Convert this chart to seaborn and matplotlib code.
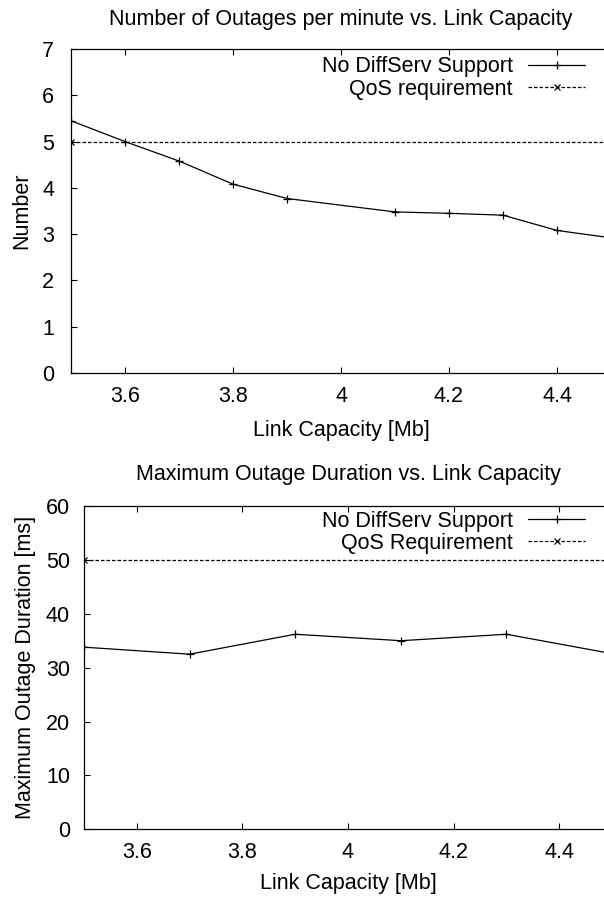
import pandas as pd
import seaborn as sns
import matplotlib.pyplot as plt

# --- data ---
capacity_top = [3.5, 3.6, 3.7, 3.8, 3.9, 4.1, 4.2, 4.3, 4.4, 4.5]
outages = [5.45, 5.0, 4.58, 4.08, 3.77, 3.48, 3.45, 3.41, 3.08, 2.92]
capacity_bottom = [3.5, 3.7, 3.9, 4.1, 4.3, 4.5]
max_duration = [33.8, 32.5, 36.2, 35.0, 36.2, 32.6]
qos_x = [3.5, 4.5]
qos_outages = [5, 5]
qos_duration = [50, 50]
x_ticks = [3.6, 3.8, 4.0, 4.2, 4.4]
x_tick_labels = ["3.6", "3.8", "4", "4.2", "4.4"]

sns.set_style("ticks")
plt.rcParams["font.family"] = ["Liberation Sans", "DejaVu Sans"]
plt.rcParams["text.color"] = "black"
plt.rcParams["axes.labelcolor"] = "black"

FS = 15.5

fig = plt.figure(figsize=(6.04, 9.0), dpi=100)
# axes reach past the right edge of the canvas, as in the reference
ax1 = fig.add_axes([71 / 604, 1 - 373 / 900, 540 / 604, 324 / 900])
ax2 = fig.add_axes([84 / 604, 1 - 829.3 / 900, 528 / 604, 323.3 / 900])


def draw_panel(ax, x, y, qos_y, qos_label, title, ylabel, ylim, yticks,
               leg_anchor, title_pad, ylabel_pad, ytick_pad, xlabel_pad):
    sns.lineplot(x=x, y=y, ax=ax, color="black", lw=0.9, marker="+",
                 markersize=5.5, markeredgewidth=0.9, markeredgecolor="black",
                 label="No DiffServ Support")
    sns.lineplot(x=qos_x, y=qos_y, ax=ax, color="black", lw=0.9, marker="x",
                 markersize=4, markeredgewidth=0.9, markeredgecolor="black",
                 label=qos_label, linestyle=(0, (2.8, 1.6)))
    ax.set_xlim(3.5, 4.5)
    ax.set_ylim(*ylim)
    ax.set_xticks(x_ticks)
    ax.set_xticklabels(x_tick_labels)
    ax.set_yticks(yticks)
    ax.tick_params(direction="in", length=4.5, width=0.8, labelsize=FS,
                   top=True, right=True, colors="black")
    ax.tick_params(axis="x", pad=9)
    ax.tick_params(axis="y", pad=ytick_pad)
    for sp in ax.spines.values():
        sp.set_visible(True)
        sp.set_linewidth(0.9)
        sp.set_color("black")
    ax.set_title(title, fontsize=FS, pad=title_pad)
    ax.set_xlabel("Link Capacity [Mb]", fontsize=FS, labelpad=xlabel_pad)
    ax.set_ylabel(ylabel, fontsize=FS, labelpad=ylabel_pad)
    ax.legend(loc="upper right", bbox_to_anchor=leg_anchor, frameon=False,
              markerfirst=False, numpoints=1, fontsize=FS, handlelength=2.65,
              handletextpad=0.7, labelspacing=0.05, borderpad=0, borderaxespad=0)


draw_panel(ax1, capacity_top, outages, qos_outages, "QoS requirement",
           "Number of Outages per minute vs. Link Capacity", "Number",
           (0, 7), range(0, 8), (0.952, 0.977), 17, 7, 12, 9.5)
draw_panel(ax2, capacity_bottom, max_duration, qos_duration, "QoS Requirement",
           "Maximum Outage Duration vs. Link Capacity", "Maximum Outage Duration [ms]",
           (0, 60), range(0, 70, 10), (0.949, 0.985), 18.5, 7, 10, 7)

fig.savefig("out.png", dpi=100)
